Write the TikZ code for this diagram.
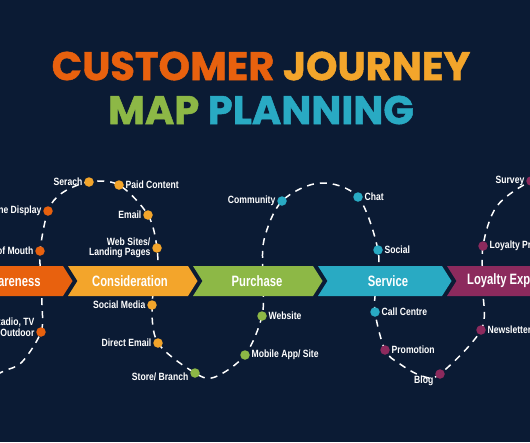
\documentclass[tikz,border=0pt]{standalone}
\usepackage{fontspec}
\newfontfamily\titlefont{Poppins}[BoldFeatures={FakeBold=1.2}]
\newfontfamily\lblfont{Liberation Sans}[FakeStretch=0.82]
\newfontfamily\bandfont{Liberation Sans}[FakeStretch=0.75]
\definecolor{navy}{HTML}{0B1B34}
\definecolor{aware}{HTML}{E8610E}
\definecolor{consid}{HTML}{F3A52B}
\definecolor{purch}{HTML}{8DB846}
\definecolor{serv}{HTML}{29AAC3}
\definecolor{loyal}{HTML}{8C2A5D}
\pgfdeclarelayer{bg}
\pgfsetlayers{bg,main}

\begin{document}
\begin{tikzpicture}[x=1pt,y=-1pt,
    dot/.style={circle,fill=#1,minimum size=9.5pt,inner sep=0pt},
    lbl/.style={text=white,font=\lblfont\bfseries\fontsize{10.5}{10.5}\selectfont,inner sep=1.5pt,align=right},
    lblr/.style={lbl,align=left},
    band/.style={text=white,font=\bandfont\bfseries\fontsize{15}{16}\selectfont},
    title/.style={font=\titlefont\bfseries\fontsize{40}{42}\selectfont,inner sep=0pt},
    trail/.style={draw=white,line width=1.5pt,dash pattern=on 7pt off 6pt}]
    \useasboundingbox (0,0) rectangle (530,442);

    % title
    \node[title] (line1) at (261,66) {\textcolor{aware}{CUSTOMER} \textcolor{consid}{JOURNEY}};
    \node[title] (line2) at (261,110) {\textcolor{purch}{MAP} \textcolor{serv}{PLANNING}};

    % awareness
    \node[dot=aware,label={[lbl,yshift=5pt]left:Radio, TV\\Outdoor}] (radio) at (41,332) {};
    \node[dot=aware,label={[lbl]left:Word of Mouth}] (wom) at (40,251) {};
    \node[dot=aware,label={[lbl]left:Online Display}] (online) at (48,211) {};

    % consideration
    \node[dot=consid,label={[lbl]left:Serach}] (serach) at (89,182) {};
    \node[dot=consid,label={[lblr]right:Paid Content}] (paid) at (119,185) {};
    \node[dot=consid,label={[lbl]left:Email}] (email) at (148,215) {};
    \node[dot=consid,label={[lbl]left:Web Sites/\\Landing Pages}] (websites) at (157,248) {};
    \node[dot=consid,label={[lbl]left:Social Media}] (socmedia) at (152,305) {};
    \node[dot=consid,label={[lbl]left:Direct Email}] (direct) at (158,343) {};

    % purchase
    \node[dot=purch,label={[lbl,yshift=-4pt]left:Store/ Branch}] (store) at (195,373) {};
    \node[dot=purch,label={[lblr]right:Mobile App/ Site}] (mobile) at (245,355) {};
    \node[dot=purch,label={[lblr]right:Website}] (website) at (262,316) {};

    % service
    \node[dot=serv,label={[lbl]left:Community}] (community) at (282,201) {};
    \node[dot=serv,label={[lblr]right:Chat}] (chat) at (358,197) {};
    \node[dot=serv,label={[lblr]right:Social}] (social) at (378,250) {};
    \node[dot=serv,label={[lblr]right:Call Centre}] (callc) at (375,312) {};

    % loyalty
    \node[dot=loyal,label={[lblr]right:Promotion}] (promo) at (385,350) {};
    \node[dot=loyal,label={[lbl,yshift=-7pt]left:Blog}] (blog) at (440,374) {};
    \node[dot=loyal,label={[lblr]right:Newsletter}] (news) at (481,330) {};
    \node[dot=loyal,label={[lblr]right:Loyalty Program}] (loyprog) at (483,246) {};
    \node[dot=loyal,label={[lbl]left:Survey}] (survey) at (531,181) {};

    \begin{pgfonlayer}{bg}
    \fill[navy] (0,0) rectangle (530,442);

    \draw[trail] plot[smooth,tension=0.55] coordinates {(-15,380) (4,371) (22,362) (radio) (42,305)
        (41,275) (wom) (online) (62,193) (serach) (paid) (email) (websites) (157,275) (socmedia)
        (direct) (store) (215,377) (mobile) (website) (263,280) (264,240) (community) (320,183)
        (chat) (social) (376,285) (callc) (promo) (400,364) (422,376) (blog) (news) (483,290)
        (loyprog) (497,206) (survey) (555,177)};

    % stages
    \fill[aware] (-70,266) -- (63,266) -- (72.5,281) -- (63,296) -- (-70,296) -- cycle;
    \fill[consid] (68,266) -- (188,266) -- (197.5,281) -- (188,296) -- (68,296) -- (77.5,281) -- cycle;
    \fill[purch] (193,266) -- (313,266) -- (322.5,281) -- (313,296) -- (193,296) -- (202.5,281) -- cycle;
    \fill[serv] (318,266) -- (442,266) -- (451.5,281) -- (442,296) -- (318,296) -- (327.5,281) -- cycle;
    \fill[loyal] (447,266) -- (600,266) -- (600,296) -- (447,296) -- (456.5,281) -- cycle;
    \end{pgfonlayer}

    \node[band] (awarelbl) at (11,281) {Awareness};
    \node[band] (considlbl) at (130,281) {Consideration};
    \node[band] (purchlbl) at (257,281) {Purchase};
    \node[band] (servlbl) at (388,281) {Service};
    \node[band,anchor=west,inner sep=0pt] (loyallbl) at (467,281) {Loyalty Expansion};
\end{tikzpicture}
\end{document}
